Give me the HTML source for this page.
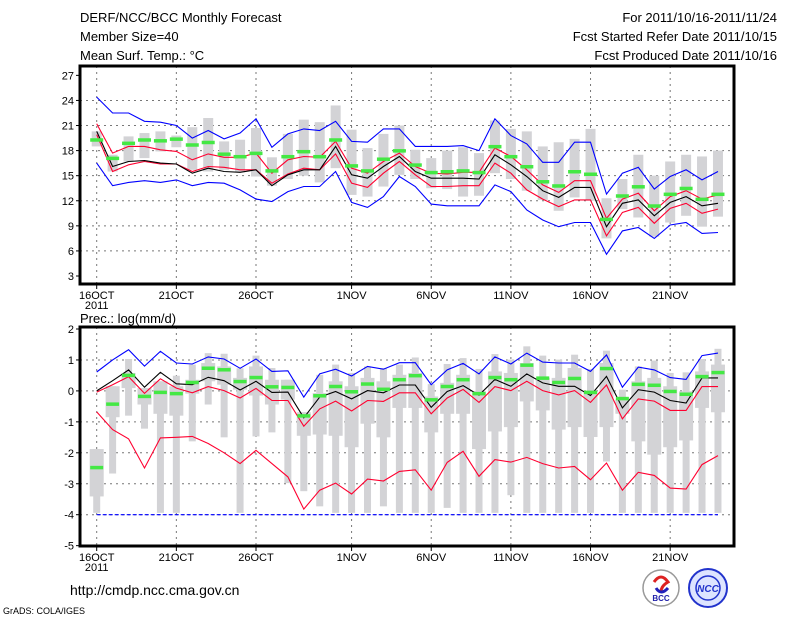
<!DOCTYPE html>
<html><head><meta charset="utf-8"><style>
html,body{margin:0;padding:0;background:#fff;}
svg{display:block;}
text{font-family:"Liberation Sans",sans-serif;}
</style></head><body>
<svg id="c" width="800" height="618" viewBox="0 0 800 618" xmlns="http://www.w3.org/2000/svg">
<rect width="800" height="618" fill="#fff"/>
<g font-size="13" fill="#000">
<text x="80" y="22">DERF/NCC/BCC Monthly Forecast</text>
<text x="80" y="41">Member Size=40</text>
<text x="80" y="60">Mean Surf. Temp.: °C</text>
<text x="777" y="22" text-anchor="end">For 2011/10/16-2011/11/24</text>
<text x="777" y="41" text-anchor="end">Fcst Started Refer Date 2011/10/15</text>
<text x="777" y="60" text-anchor="end">Fcst Produced Date 2011/10/16</text>
<text x="80" y="323">Prec.: log(mm/d)</text>
<text x="70" y="595" font-size="14">http://cmdp.ncc.cma.gov.cn</text>
<text x="3" y="614" font-size="9">GrADS: COLA/IGES</text>
</g>
<g>
<circle cx="661" cy="588" r="18" fill="#fff" stroke="#999" stroke-width="1.5"/>
<path d="M654 582 q7 -10 14 0 q-7 4 -7 10" fill="none" stroke="#d22" stroke-width="3"/>
<path d="M656 588 q5 8 12 0" fill="none" stroke="#22b" stroke-width="3"/>
<text x="661" y="601" font-size="8" text-anchor="middle" fill="#22a" font-weight="bold">BCC</text>
</g>
<g>
<circle cx="708" cy="588" r="19" fill="#dde4ff" stroke="#23c" stroke-width="2"/>
<circle cx="708" cy="588" r="12" fill="none" stroke="#23c" stroke-width="1.5"/>
<text x="708" y="592" font-size="10" text-anchor="middle" fill="#23c" font-weight="bold" font-style="italic">NCC</text>
</g>
<g id="top"></g>
<g id="bot"></g>
</svg>
<script>
// ---- day axis ----
const dayCount = 40;
const xTickDays = [0,5,10,16,21,26,31,36];
const xTickLabels = ["16OCT","21OCT","26OCT","1NOV","6NOV","11NOV","16NOV","21NOV"];
// ---- temperature data ----
const tMax = [24.4,22.5,22.5,21.5,21.4,21.0,19.5,20.4,19.4,20.1,21.8,18.4,20.0,20.6,20.4,21.5,19.1,19.0,20.6,20.6,18.5,18.5,18.5,18.6,18.0,21.8,19.8,18.8,16.6,16.6,19.0,19.0,12.8,15.3,16.0,13.4,14.9,15.7,14.5,15.5];
const tMin = [16.5,13.8,14.2,14.4,14.2,14.5,13.8,14.2,14.1,13.3,12.2,11.9,13.1,13.7,13.7,15.5,11.8,11.2,12.5,14.9,13.7,11.6,11.4,11.4,11.4,13.9,13.1,10.9,9.7,8.9,9.4,9.4,5.6,8.4,8.8,7.5,9.1,9.4,8.1,8.2];
const tMean = [20.3,16.1,16.7,16.8,16.5,16.4,15.3,15.9,15.5,15.4,15.7,13.8,15.1,15.7,15.7,18.5,15.1,14.7,16.1,17.3,15.5,14.7,14.7,14.7,14.6,17.5,16.3,14.9,13.2,12.4,13.6,13.6,8.9,11.7,12.1,10.2,11.8,12.5,11.4,11.7];
const tUpper = [21.2,17.7,18.5,18.5,18.1,17.9,16.9,17.6,17.2,17.2,17.7,15.3,16.9,17.3,17.2,19.1,15.9,15.3,16.7,17.7,16.1,15.3,15.2,15.4,15.4,18.3,17.3,15.7,13.9,13.0,14.4,14.4,9.9,12.2,12.9,10.8,12.5,13.2,12.2,12.7];
const tLower = [19.9,15.5,16.3,16.7,16.4,16.4,15.5,16.1,16.0,15.7,15.7,14.1,15.2,15.9,15.7,17.6,14.1,13.6,15.3,16.7,15.1,13.7,13.7,13.8,13.8,16.5,15.3,13.3,12.2,11.3,12.1,12.1,7.8,10.6,11.2,9.3,11.1,11.7,10.5,11.0];
const tObs = [19.3,17.1,18.9,19.3,19.2,19.4,18.7,19.0,17.6,17.3,17.7,15.6,17.3,17.9,17.3,19.3,16.2,15.6,17.0,18.0,16.3,15.4,15.5,15.6,15.4,18.5,17.3,16.1,14.3,13.8,15.5,15.2,9.8,12.6,13.7,11.4,12.8,13.5,12.2,12.8];
const tBarHi = [20.3,17.5,19.7,20.1,20.3,19.8,20.8,21.9,19.1,19.3,20.7,17.2,20.0,21.7,21.4,23.4,20.5,18.3,20.0,21.0,18.1,17.1,18.0,18.4,17.7,21.6,20.6,20.3,18.5,19.0,19.4,20.6,12.3,14.6,17.5,15.0,16.7,17.5,17.3,18.0];
const tBarLo = [18.5,15.5,16.7,17.1,17.9,18.4,15.7,15.5,15.7,15.4,14.9,13.8,14.6,15.0,14.2,15.9,12.7,12.5,13.7,15.1,14.6,13.5,13.4,12.5,12.6,15.3,14.6,13.2,12.1,10.8,12.4,12.0,7.5,11.0,10.0,7.7,9.4,10.2,8.9,10.1];
const tTicks = [3,6,9,12,15,18,21,24,27];
// ---- precipitation data ----
const pMax = [0.61,1.0,1.33,0.8,1.28,0.9,0.87,1.1,1.03,0.73,1.03,0.63,0.65,-0.2,0.55,0.7,0.48,0.79,0.7,0.91,0.91,0.2,0.68,0.89,0.55,1.1,0.87,1.22,0.93,0.9,0.9,0.63,1.16,0.12,0.77,0.68,0.43,0.37,1.14,1.22];
const pMin = [-4,-4,-4,-4,-4,-4,-4,-4,-4,-4,-4,-4,-4,-4,-4,-4,-4,-4,-4,-4,-4,-4,-4,-4,-4,-4,-4,-4,-4,-4,-4,-4,-4,-4,-4,-4,-4,-4,-4,-4];
const pMean = [0,0.33,0.68,0.12,0.6,0.23,0.2,0.44,0.33,0.03,0.31,-0.05,-0.04,-0.87,-0.2,-0.02,-0.26,0.01,-0.06,0.19,0.19,-0.53,-0.02,0.17,-0.14,0.37,0.15,0.55,0.26,0.15,0.15,-0.15,0.47,-0.55,0.04,-0.04,-0.31,-0.39,0.42,0.42];
const pUpper = [-0.04,0.2,0.46,-0.08,0.39,0.09,-0.06,0.14,0.01,-0.23,0.08,-0.31,-0.31,-1.14,-0.58,-0.33,-0.65,-0.31,-0.34,-0.06,-0.06,-0.74,-0.23,0.05,-0.37,0.14,0.01,0.31,0.01,-0.13,0.01,-0.37,0.19,-0.9,-0.26,-0.33,-0.63,-0.63,0.14,0.14];
const pLower = [-0.68,-1.25,-1.55,-2.49,-1.52,-1.5,-1.47,-1.7,-2.0,-2.35,-1.92,-2.35,-2.78,-3.82,-3.21,-2.98,-3.33,-2.85,-2.91,-2.6,-2.55,-3.21,-2.31,-1.95,-2.76,-2.22,-2.3,-2.15,-2.35,-2.49,-2.44,-2.87,-2.33,-3.21,-2.63,-2.73,-3.14,-3.17,-2.38,-2.09];
const pObs = [-2.47,-0.42,0.51,-0.17,-0.04,-0.08,0.28,0.74,0.69,0.31,0.44,0.14,0.12,-0.8,-0.15,0.15,-0.02,0.23,0.06,0.37,0.5,-0.28,0.15,0.37,-0.08,0.44,0.37,0.84,0.42,0.28,0.41,-0.04,0.73,-0.24,0.22,0.19,-0.01,-0.1,0.47,0.6];
const pWhiskHi = [-1.88,0.15,1.03,0.09,0.31,0.49,0.85,1.22,1.2,0.73,1.14,0.74,0.36,-0.69,0.52,0.85,0.58,0.79,0.74,0.85,1.08,0.22,0.87,1.06,0.71,1.19,1.01,1.44,1.14,1.01,1.17,0.71,1.3,0.04,0.79,0.98,0.58,0.6,1.03,1.36];
const pBoxHi = [-1.88,0.15,0.58,0.09,0.31,0.15,0.36,0.9,0.79,0.42,0.79,0.36,0.36,-0.69,-0.07,0.31,0.15,0.42,0.31,0.52,0.58,-0.18,0.26,0.52,-0.01,0.63,0.58,0.9,0.42,0.42,0.74,-0.01,0.9,-0.28,0.31,0.42,0.15,-0.01,0.63,0.85];
const pBoxLo = [-3.41,-0.85,0.09,-0.44,-0.74,-0.8,-0.09,0.31,0.2,0.04,-0.15,-0.44,-0.28,-1.45,-1.41,-1.45,-1.82,-1.06,-1.5,-0.55,-0.55,-1.34,-0.74,-0.74,-1.88,-1.31,-1.17,-0.34,-0.63,-1.25,-1.17,-1.49,-1.17,-0.74,-1.63,-2.06,-1.82,-1.6,-0.55,-0.69];
const pWhiskLo = [-3.94,-2.67,-0.8,-1.22,-3.94,-3.94,-1.63,-0.44,-1.5,-3.94,-1.47,-1.34,-2.98,-3.24,-3.73,-3.94,-3.94,-3.94,-3.73,-3.94,-3.94,-3.94,-3.78,-3.94,-3.94,-3.94,-3.37,-3.94,-3.94,-3.94,-3.94,-3.94,-2.28,-3.94,-3.94,-3.94,-3.94,-3.94,-3.94,-3.94];
const pTicks = [-5,-4,-3,-2,-1,0,1,2];

const NS = "http://www.w3.org/2000/svg";
function mk(parent, tag, attrs){ const e=document.createElementNS(NS,tag); for(const k in attrs) e.setAttribute(k,attrs[k]); parent.appendChild(e); return e; }
const X0 = 96.7, DX = 15.93;
function xOf(d){ return X0 + d*DX; }

function panel(g, cfg){
  const L=80,R=734,T=cfg.top,B=cfg.bottom;
  const yOf = v => cfg.yA + (cfg.vA - v) * cfg.k;
  // grid
  cfg.ticks.forEach(v=>{
    const y=yOf(v);
    if(v>cfg.ticks[0] && v<cfg.ticks[cfg.ticks.length-1]){
      const ln=mk(g,'line',{x1:L,x2:R,y1:y,y2:y,stroke:'#777','stroke-width':1,'stroke-dasharray':'2,4'});
      
      
    }
    const t=mk(g,'text',{x:L-6,y:y+4,'font-size':11,'text-anchor':'end'});
    t.textContent=v;
    
    
    mk(g,'line',{x1:L-4,x2:L,y1:y,y2:y,stroke:'#000'});
  });
  xTickDays.forEach((d,i)=>{
    const x=xOf(d);
    const ln=mk(g,'line',{x1:x,x2:x,y1:T,y2:B,stroke:'#777','stroke-width':1,'stroke-dasharray':'2,4'});
    
    
    mk(g,'line',{x1:x,x2:x,y1:B,y2:B+5,stroke:'#000'});
    const t=mk(g,'text',{x:x,y:B+15,'font-size':11,'text-anchor':'middle'});
    t.textContent=xTickLabels[i];
    
    
  });
  const yr=mk(g,'text',{x:xOf(0),y:B+25,'font-size':11,'text-anchor':'middle'});
  yr.textContent='2011';
  
  
  // bars
  for(let d=0; d<dayCount; d++){
    const x=xOf(d);
    if(cfg.whHi){
      const w=mk(g,'rect',{x:x-3.5,y:yOf(cfg.whHi[d]),width:7,height:yOf(cfg.whLo[d])-yOf(cfg.whHi[d]),fill:'#d3d3d6'});
      
      
      const b=mk(g,'rect',{x:x-7,y:yOf(cfg.bxHi[d]),width:14,height:yOf(cfg.bxLo[d])-yOf(cfg.bxHi[d]),fill:'#d3d3d6'});
      
      
    } else {
      const b=mk(g,'rect',{x:x-5,y:yOf(cfg.bxHi[d]),width:10,height:yOf(cfg.bxLo[d])-yOf(cfg.bxHi[d]),fill:'#d3d3d6'});
      
      
    }
  }
  // lines
  const lines=[[cfg.mx,'#0000ff','max-line'],[cfg.mn,'#0000ff','min-line'],[cfg.up,'#ff0030','upper-line'],[cfg.lo,'#ff0030','lower-line'],[cfg.mean,'#000','mean-line']];
  lines.forEach(([arr,col,name])=>{
    const pts=arr.map((v,d)=>xOf(d).toFixed(1)+','+yOf(v).toFixed(1)).join(' ');
    const p=mk(g,'polyline',{points:pts,fill:'none',stroke:col,'stroke-width':1.1});
    if(name==='min-line' && cfg.dashMin) p.setAttribute('stroke-dasharray','4,2');
    
    
  });
  for(let d=0; d<dayCount; d++){
    const o=mk(g,'rect',{x:xOf(d)-6.5,y:yOf(cfg.obs[d])-1.5,width:13,height:3.5,fill:'#44e844'});
    
    
  }
  const f=mk(g,'rect',{x:L,y:T,width:R-L,height:B-T,fill:'none',stroke:'#000','stroke-width':3});
  
  
}
panel(document.getElementById('top'),{top:66,bottom:284,yA:276,vA:3,k:8.36,ticks:tTicks,
  mx:tMax,mn:tMin,up:tUpper,lo:tLower,mean:tMean,obs:tObs,bxHi:tBarHi,bxLo:tBarLo});
panel(document.getElementById('bot'),{top:327,bottom:546,yA:329,vA:2,k:30.95,ticks:pTicks,dashMin:true,
  mx:pMax,mn:pMin,up:pUpper,lo:pLower,mean:pMean,obs:pObs,bxHi:pBoxHi,bxLo:pBoxLo,whHi:pWhiskHi,whLo:pWhiskLo});
</script>
</body></html>
